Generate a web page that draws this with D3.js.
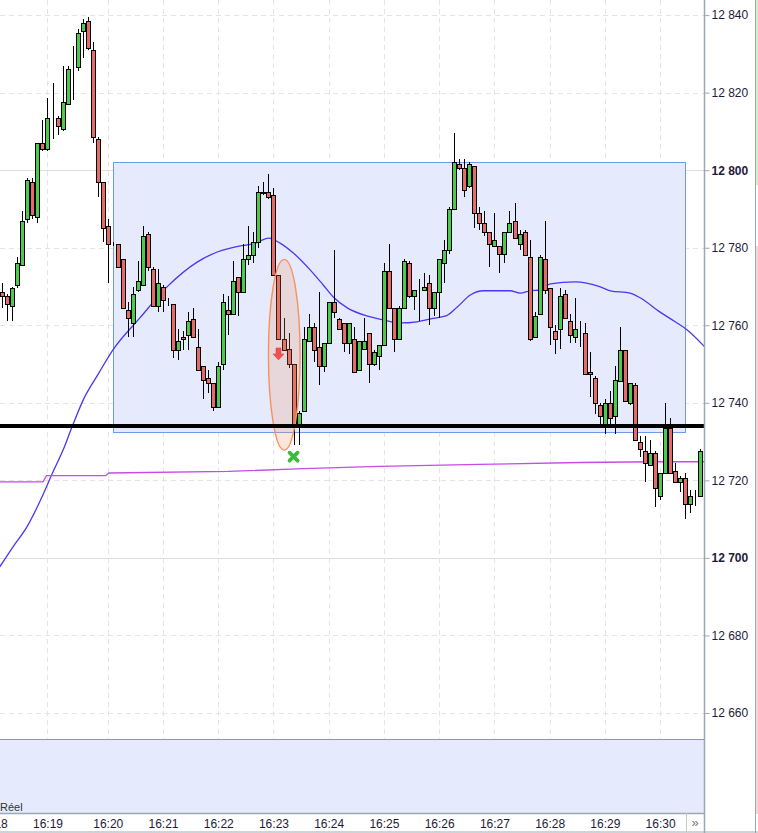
<!DOCTYPE html>
<html>
<head>
<meta charset="utf-8">
<script src="https://cdn.jsdelivr.net/npm/d3@7"></script>
<style>
  body { margin: 0; background: #fff; }
  svg { display: block; font-family: "Liberation Sans", Arial, sans-serif; }
</style>
</head>
<body>
<div id="chart"></div>
<script>
// OHLC, one bar per index: [open, high, low, close]
const candles = [
  [12768.5,12771,12764.5,12767.5],[12767.5,12768,12761,12765.5],[12765,12770,12761,12769.5],[12770.5,12777.5,12769.5,12776],
  [12775.5,12789.5,12775.5,12787],[12787.5,12798,12786.5,12797.5],[12797,12798,12787.5,12788.5],[12788,12807,12786.5,12807],
  [12807,12813,12805,12805.5],[12805.5,12818.5,12805,12813.5],[12813.5,12822.5,12808,12813.5],[12813.5,12814,12809,12811.5],
  [12810.5,12827,12810,12817.5],[12817,12827,12817,12826],[12826.5,12832,12818,12826.5],[12826.5,12836.5,12825.5,12835.5],
  [12836,12839,12829,12838],[12838.5,12839.5,12831,12831.5],[12831,12833,12807,12808.5],[12808,12808.5,12793,12797],
  [12797,12797,12781.5,12785],[12785.5,12787.5,12771,12781],[12781,12781.5,12780.5,12781],[12781,12781,12775,12775],
  [12777,12777,12764.5,12764.5],[12764,12766,12757,12762],[12760.5,12770,12757,12768],[12769,12776.5,12768.5,12771.5],
  [12770.5,12785.5,12770.5,12783],[12783.5,12784,12774,12775],[12774.5,12775,12765,12765],[12765,12774.5,12763.5,12771],
  [12770,12770.5,12763.5,12766.5],[12766,12767,12765,12766],[12765.5,12765.5,12751.5,12753.5],[12753.5,12759,12751,12756],
  [12757,12758.5,12753.5,12756.5],[12757.5,12763.5,12753.5,12761],[12761.5,12764.5,12757,12757],[12754.5,12759,12748.5,12748.5],
  [12749.5,12749.5,12741,12746],[12746.5,12748.5,12742.5,12745],[12745,12745,12738,12739],[12739,12750.5,12739,12749.5],
  [12750,12768,12748.5,12766],[12764,12767.5,12757.5,12763],[12763,12776.5,12763,12771.5],[12772.5,12772.5,12762.5,12768.5],
  [12768.5,12781,12768.5,12777],[12777,12785.5,12775.5,12778],[12778,12784,12776,12781.5],[12781.5,12796,12780,12794.5],
  [12794.5,12797,12793.5,12794],[12794.5,12799,12792.5,12793],[12793.5,12795.5,12773,12773],[12773,12773,12756.5,12756.5],
  [12756.5,12762,12753.5,12753.5],[12754,12758,12749,12750],[12750,12750,12729,12734],[12734,12738,12729,12737.5],
  [12738,12759.5,12738,12756.5],[12756,12763,12756,12759.5],[12759.5,12760.5,12750.5,12753.5],[12754.5,12768.5,12744.5,12749.5],
  [12749.5,12755.5,12748,12755.5],[12755.5,12766,12755.5,12766],[12766,12779.5,12762,12763.5],[12761.5,12762,12759,12759],
  [12760.5,12760.5,12753,12755.5],[12755.5,12760.5,12752.5,12760.5],[12756.5,12759.5,12748,12748],[12748.5,12756,12748.5,12756],
  [12754,12762,12754,12756],[12758,12758,12745,12750],[12750,12753.5,12749.5,12753],[12752,12755,12748.5,12755],
  [12755,12776,12755,12774],[12774,12781,12764.5,12764.5],[12764.5,12764.5,12753,12756.5],[12756.5,12765,12756.5,12764.5],
  [12764.5,12777,12764.5,12776.5],[12776,12776.5,12767,12767.5],[12767.5,12769,12764,12769],[12769.5,12772,12761,12769.5],
  [12769,12773.5,12769,12770],[12771,12773,12760,12764.5],[12764.5,12768.5,12762.5,12768.5],[12768.5,12777,12762,12777],
  [12776,12782,12771,12779.5],[12779.5,12790.5,12778.5,12790],[12790,12809.5,12790,12802],[12801.5,12803,12800,12800.5],
  [12800.5,12803,12793,12795],[12796,12802,12795.5,12801.5],[12801,12801,12785,12789],[12789,12790.5,12784.5,12786.5],
  [12786.5,12789.5,12783,12784],[12784,12784,12775,12781],[12780.5,12789,12780.5,12782],[12780.5,12780.5,12773.5,12778.5],
  [12778.5,12784,12776,12784],[12784,12789.5,12784,12786.5],[12787,12791.5,12782.5,12782.5],[12781,12784.5,12779.5,12783.5],
  [12784,12784.5,12778,12778],[12777.5,12782,12756,12756.5],[12757,12763.5,12757,12762.5],[12763,12778,12763,12777.5],
  [12777,12787,12768,12769],[12769.5,12769.5,12755,12759.5],[12758.5,12760,12752.5,12756.5],[12759,12769.5,12754,12767.5],
  [12768,12769,12762,12762],[12761,12763,12755.5,12757.5],[12757,12767,12755.5,12759],[12758,12761,12754.5,12758],
  [12758,12760.5,12747.5,12747.5],[12748,12753,12741.5,12747.5],[12746.5,12747,12737,12740],[12739.5,12740,12734.5,12736.5],
  [12734.5,12741,12732,12740],[12740,12743,12734.5,12736],[12736.5,12749.5,12732,12746],[12745.5,12759.5,12745.5,12753.5],
  [12753.5,12753.5,12740.5,12740.5],[12740,12745,12739.5,12745],[12744.5,12745,12730.5,12730.5],[12730,12731.5,12726,12728],
  [12727.5,12731.5,12719.5,12724.5],[12724,12730.5,12724,12727],[12727,12727.5,12713,12718],[12716,12722,12715,12722],
  [12722,12740,12722,12733.5],[12733.5,12736,12722,12722],[12722.5,12724.5,12719.5,12719.5],[12719.5,12721,12717,12720.5],
  [12720.5,12722,12710,12714],[12714,12717.5,12711.5,12716],[12716,12717.5,12713.5,12716],[12716,12728,12716,12727.5]
];

// moving average: [bar index, price]
const maLine = [
  [-0.5,12697.7],[2.1,12702.8],[4.9,12708],[7.9,12715.7],[10.1,12722.2],[12.1,12727.8],[13.9,12733.8],
  [16.1,12740.7],[19.1,12747.4],[22,12753.6],[27.4,12761.9],[32.8,12769.9],[38.8,12776.3],[42.8,12778.9],
  [47.4,12780.5],[50,12781],[53.1,12782.5],[55.3,12781.2],[57.9,12778.7],[61.3,12774.3],[63.9,12770.4],
  [65.9,12767.3],[68.7,12764.5],[72.6,12762.4],[75.8,12761.4],[79.2,12760.6],[82.6,12760.9],[85.8,12761.8],
  [88.5,12762.5],[90.6,12764.7],[93.2,12767.8],[95.8,12768.9],[101.1,12768.9],[103.1,12768.3],[105.1,12768.9],
  [107.1,12769.1],[109.1,12770.7],[114.1,12771.2],[119.1,12769.9],[121.1,12768.9],[125,12768.3],[127,12767.1],
  [131,12763.4],[134,12760.9],[136.4,12758.8],[139.9,12754.4]
];

// stepped average price line (magenta)
const vwapLine = [
  [-0.5,12719.6],[8.1,12719.6],[8.8,12721.2],[20.6,12721.2],[21.2,12721.9],[45,12722.3],[60,12723],
  [75,12723.6],[95,12724.1],[115,12724.6],[130,12724.8],[139.9,12724.8]
];

const priceTicks = [12660, 12680, 12700, 12720, 12740, 12760, 12780, 12800, 12820, 12840];
const majorTicks = [12700, 12800];
const timeIdx    = [-2, 9, 21, 32, 43, 54, 65, 76, 87, 98, 109, 120, 131];
const timeLabels = ['16:18','16:19','16:20','16:21','16:22','16:23','16:24','16:25','16:26','16:27','16:28','16:29','16:30'];

const supportLevel = 12734;
const zoneBars   = [22, 136];           // first / last bar of the range box
const zonePrices = [12802.2, 12732.4];  // top / bottom of the range box
const lowerZoneTop = 12653.3;
const signalEllipse = [56.15, 12752.4, 3.15, 24.6]; // bar, price, half width (bars), half height (pts)
const sellArrow = [55, 12752.6];
const exitMark  = [58, 12726.1];

const W = 758, H = 833;
const plotR = 704, plotB = 813;

const svg = d3.select('#chart').append('svg')
  .attr('width', W).attr('height', H);

const x = d3.scaleLinear().domain([0, 139]).range([2.3, 700.3]);
const y = d3.scaleLinear().domain([12634.2, 12843.9]).range([plotB, 0]);
const px = v => Math.round(x(v)) + 0.5;
const py = v => Math.round(y(v)) + 0.5;

svg.append('defs').append('clipPath').attr('id', 'plot')
  .append('rect').attr('width', plotR).attr('height', plotB);

const g = svg.append('g').attr('clip-path', 'url(#plot)');

// grid
g.selectAll('.hgrid')
  .data(priceTicks)
  .join('line')
  .attr('x1', 0).attr('x2', plotR)
  .attr('y1', d => py(d)).attr('y2', d => py(d))
  .attr('stroke', d => majorTicks.includes(d) ? '#dcdcdc' : '#e4e4e4')
  .attr('stroke-dasharray', d => majorTicks.includes(d) ? null : '5,4');

g.selectAll('.vgrid')
  .data(timeIdx)
  .join('line')
  .attr('x1', d => px(d)).attr('x2', d => px(d))
  .attr('y1', 0).attr('y2', plotB)
  .attr('stroke', '#e4e4e4')
  .attr('stroke-dasharray', '5,4');

// range box
g.append('rect')
  .attr('x', px(zoneBars[0]))
  .attr('y', py(zonePrices[0]))
  .attr('width', px(zoneBars[1]) - px(zoneBars[0]))
  .attr('height', py(zonePrices[1]) - py(zonePrices[0]))
  .attr('fill', '#e5ebfd')
  .attr('stroke', '#6f9be6');

// lower shaded zone
g.append('rect')
  .attr('x', 0).attr('y', py(lowerZoneTop))
  .attr('width', plotR).attr('height', plotB - py(lowerZoneTop))
  .attr('fill', '#e5ebfd');
g.append('line')
  .attr('x1', 0).attr('x2', plotR)
  .attr('y1', py(lowerZoneTop)).attr('y2', py(lowerZoneTop))
  .attr('stroke', '#6f9be6');

// moving average + average price
g.append('path')
  .datum(maLine)
  .attr('d', d3.line().x(d => x(d[0])).y(d => y(d[1])).curve(d3.curveMonotoneX))
  .attr('fill', 'none')
  .attr('stroke', '#4b36f2')
  .attr('stroke-width', 1.3);

g.append('path')
  .datum(vwapLine)
  .attr('d', d3.line().x(d => x(d[0])).y(d => y(d[1])))
  .attr('fill', 'none')
  .attr('stroke', '#c84ae8')
  .attr('stroke-width', 1.3);

// candles
const bars = g.selectAll('.bar')
  .data(candles)
  .join('g')
  .attr('class', 'bar');

bars.append('line')
  .attr('x1', (d, i) => px(i)).attr('x2', (d, i) => px(i))
  .attr('y1', d => Math.round(y(d[1])))
  .attr('y2', d => Math.round(y(d[2])))
  .attr('stroke', '#000');

bars.append('rect')
  .attr('x', (d, i) => px(i) - 2)
  .attr('width', 4)
  .attr('y', d => py(Math.max(d[0], d[3])))
  .attr('height', d => py(Math.min(d[0], d[3])) - py(Math.max(d[0], d[3])))
  .attr('fill', d => d[3] > d[0] ? '#4dc94d' : d[3] < d[0] ? '#e46b68' : '#000')
  .attr('stroke', '#000')
  .attr('stroke-width', 1);

// signal ellipse
g.append('ellipse')
  .attr('cx', x(signalEllipse[0]))
  .attr('cy', y(signalEllipse[1]))
  .attr('rx', x(signalEllipse[0] + signalEllipse[2]) - x(signalEllipse[0]))
  .attr('ry', y(signalEllipse[1] - signalEllipse[3]) - y(signalEllipse[1]))
  .attr('fill', 'rgb(240,140,95)')
  .attr('fill-opacity', 0.22)
  .attr('stroke', '#f5925c')
  .attr('stroke-width', 1.4);

// support line
g.append('line')
  .attr('x1', 0).attr('x2', plotR)
  .attr('y1', y(supportLevel)).attr('y2', y(supportLevel))
  .attr('stroke', '#000')
  .attr('stroke-width', 4);

// sell arrow
g.append('path')
  .attr('transform', `translate(${x(sellArrow[0])},${y(sellArrow[1])})`)
  .attr('d', 'M-2.5,-6L2.5,-6L2.5,0L5.5,0L0,6L-5.5,0L-2.5,0Z')
  .attr('fill', '#ec5252')
  .attr('stroke', '#d94040')
  .attr('stroke-width', 0.5);

// exit cross
const xm = g.append('g')
  .attr('transform', `translate(${x(exitMark[0])},${y(exitMark[1])})`)
  .attr('stroke', '#3dbb3d')
  .attr('stroke-width', 3.8)
  .attr('stroke-linecap', 'round');
xm.append('line').attr('x1', -4).attr('y1', -4).attr('x2', 4).attr('y2', 4);
xm.append('line').attr('x1', -4).attr('y1', 4).attr('x2', 4).attr('y2', -4);

g.append('text')
  .attr('x', 0).attr('y', 811)
  .attr('font-size', 11)
  .attr('fill', '#333')
  .text('Réel');

// price axis
const fmt = d => d3.format(',')(d).replace(',', ' ');
const yAxis = svg.append('g')
  .attr('transform', `translate(${plotR + 0.5},0)`)
  .call(d3.axisRight(y).tickValues(priceTicks).tickSize(5).tickPadding(2).tickFormat(fmt));
yAxis.select('.domain').remove();
yAxis.selectAll('.tick line').attr('stroke', '#9aa8b4');
yAxis.selectAll('.tick text')
  .attr('font-family', '"Liberation Sans", Arial, sans-serif')
  .attr('font-size', 12)
  .attr('fill', '#1e1a3a')
  .attr('font-weight', d => majorTicks.includes(d) ? 'bold' : 'normal');

// time axis
const xAxis = svg.append('g')
  .attr('transform', `translate(0,${plotB})`)
  .call(d3.axisBottom(x).tickValues(timeIdx).tickSize(0).tickPadding(6)
    .tickFormat((d, i) => timeLabels[i]));
xAxis.select('.domain').remove();
xAxis.selectAll('.tick text')
  .attr('font-family', '"Liberation Sans", Arial, sans-serif')
  .attr('font-size', 12)
  .attr('fill', '#1e1a3a');

// frame lines
svg.append('line')
  .attr('x1', plotR + 0.5).attr('x2', plotR + 0.5).attr('y1', 0).attr('y2', H)
  .attr('stroke', '#9aa8b4').attr('stroke-width', 1.5);
svg.append('line')
  .attr('x1', 0).attr('x2', plotR).attr('y1', plotB + 0.5).attr('y2', plotB + 0.5)
  .attr('stroke', '#9aa8b4').attr('stroke-width', 1.5);
svg.append('line')
  .attr('x1', 0).attr('x2', W).attr('y1', H - 1).attr('y2', H - 1)
  .attr('stroke', '#9aa8b4');
svg.append('line')
  .attr('x1', 755.5).attr('x2', 755.5).attr('y1', 0).attr('y2', H)
  .attr('stroke', '#9aa8b4');
svg.append('rect').attr('x', 756).attr('y', 0).attr('width', 2).attr('height', 185).attr('fill', '#d4efcc');
svg.append('rect').attr('x', 756).attr('y', 246).attr('width', 2).attr('height', 568).attr('fill', '#f6d8d8');

// scroll button
svg.append('line')
  .attr('x1', 686.5).attr('x2', 686.5).attr('y1', plotB).attr('y2', H - 1)
  .attr('stroke', '#c4c8cc');
svg.append('text')
  .attr('x', 695).attr('y', 827)
  .attr('text-anchor', 'middle')
  .attr('font-size', 13)
  .attr('fill', '#777')
  .text('»');
</script>
</body>
</html>
